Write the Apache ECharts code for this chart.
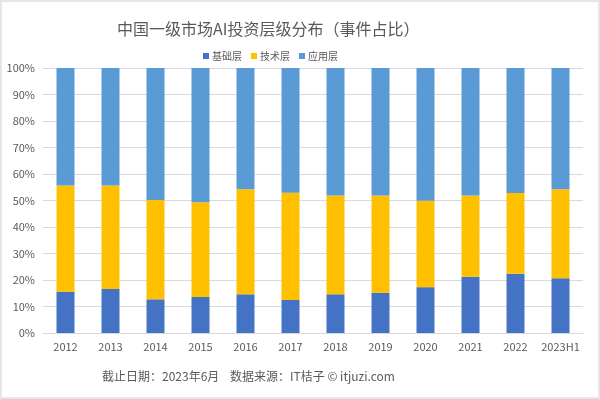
<!DOCTYPE html>
<html lang="zh">
<head>
  <meta charset="UTF-8">
  <title>中国一级市场AI投资层级分布</title>
  <script src="https://cdn.jsdelivr.net/npm/echarts@6/dist/echarts.min.js"></script>
  <style>
    html, body { margin: 0; padding: 0; background: #fff; }
    #main { width: 600px; height: 399px; box-sizing: border-box; border: 2px solid #e6e6e6; }
  </style>
</head>
<body>
  <div id="main"></div>
  <script>
    let years = ['2012', '2013', '2014', '2015', '2016', '2017', '2018', '2019', '2020', '2021', '2022', '2023H1']
    // 各层占比（%）
    let base = [15.6, 16.6, 12.7, 13.6, 14.6, 12.5, 14.6, 15.2, 17.3, 21.2, 22.4, 20.7]
    let tech = [40.1, 39.1, 37.5, 35.7, 39.6, 40.4, 37.3, 36.7, 32.6, 30.7, 30.4, 33.5]
    let app = [44.3, 44.3, 49.8, 50.7, 45.8, 47.1, 48.1, 48.1, 50.1, 48.1, 47.2, 45.8]

    let font = 'Noto Sans CJK SC'
    let myChart = echarts.init(document.getElementById('main'))
    let option = {
      animation: false,
      textStyle: { fontFamily: font },
      title: {
        text: '中国一级市场AI投资层级分布（事件占比）',
        left: 110,
        top: 14,
        textStyle: { fontSize: 16, fontWeight: 'normal', color: '#595959', fontFamily: font }
      },
      legend: {
        top: 44,
        left: 196,
        itemWidth: 6,
        itemHeight: 6,
        itemGap: 9,
        icon: 'rect',
        textStyle: { fontSize: 10, color: '#595959', padding: [0, 0, 0, -2] }
      },
      grid: { left: 41, right: 15, top: 66, bottom: 64 },
      xAxis: {
        type: 'category',
        data: years,
        axisTick: { show: false },
        axisLine: { lineStyle: { color: '#d9d9d9' } },
        axisLabel: { color: '#595959', fontSize: 11, margin: 8, interval: 0 }
      },
      yAxis: {
        type: 'value',
        min: 0,
        max: 100,
        interval: 10,
        axisLabel: { formatter: '{value}%', color: '#595959', fontSize: 11, margin: 8 },
        splitLine: { lineStyle: { color: '#d9d9d9' } }
      },
      series: [
        { name: '基础层', type: 'bar', stack: 'all', data: base, barWidth: 18, itemStyle: { color: '#4472C4' } },
        { name: '技术层', type: 'bar', stack: 'all', data: tech, barWidth: 18, itemStyle: { color: '#FFC000' } },
        { name: '应用层', type: 'bar', stack: 'all', data: app, barWidth: 18, itemStyle: { color: '#5B9BD5' } }
      ],
      graphic: [{
        type: 'text',
        left: 100,
        top: 368,
        style: { text: '截止日期：2023年6月    数据来源：IT桔子 © itjuzi.com', fontSize: 12, fill: '#595959', fontFamily: font }
      }]
    }
    myChart.setOption(option)
  </script>
</body>
</html>
